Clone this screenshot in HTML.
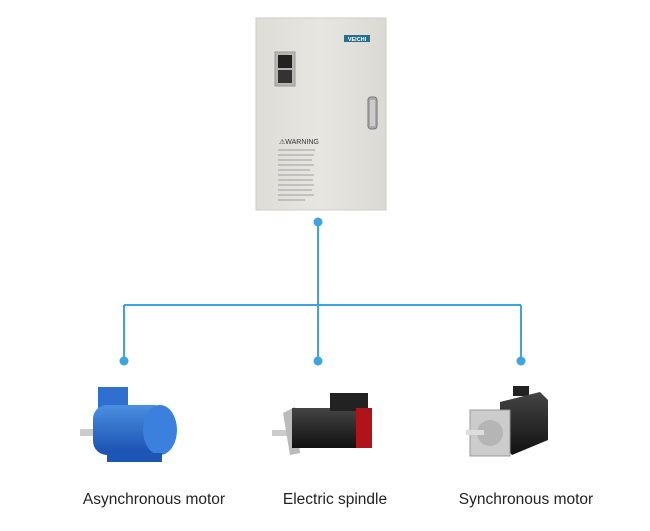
<!DOCTYPE html>
<html><head><meta charset="utf-8"><style>
html,body{margin:0;padding:0;background:#fff;}
svg{display:block}
text{font-family:"Liberation Sans",Arial,sans-serif;}
</style></head><body>
<svg width="650" height="531" viewBox="0 0 650 531">
<defs>
<linearGradient id="cab" x1="0" x2="1"><stop offset="0" stop-color="#dedcd7"/><stop offset="0.5" stop-color="#e8e6e1"/><stop offset="1" stop-color="#dbd9d4"/></linearGradient>
<linearGradient id="blue" x1="0" y1="0" x2="0" y2="1"><stop offset="0" stop-color="#4a8fe0"/><stop offset="1" stop-color="#1a4fb0"/></linearGradient>
<linearGradient id="blk" x1="0" y1="0" x2="0" y2="1"><stop offset="0" stop-color="#444"/><stop offset="1" stop-color="#111"/></linearGradient>
</defs>
<rect x="256" y="18" width="130" height="192" fill="url(#cab)" stroke="#cfcdc8"/>
<rect x="344" y="35" width="26" height="7" fill="#2a6f8a"/>
<text x="357" y="41" font-size="5.5" fill="#fff" text-anchor="middle" font-weight="bold">VEICHI</text>
<rect x="275" y="52" width="20" height="34" fill="#b8b6b0" stroke="#999"/>
<rect x="278" y="55" width="14" height="13" fill="#222"/>
<rect x="278" y="70" width="14" height="13" fill="#333"/>
<rect x="368" y="97" width="9" height="32" rx="3" fill="#aaa" stroke="#777"/>
<rect x="370" y="100" width="5" height="26" fill="#ccc"/>
<text x="279" y="144" font-size="7" fill="#333">⚠WARNING</text>
<g stroke="#888" stroke-width="0.8">
<line x1="278" y1="150" x2="315" y2="150"/><line x1="278" y1="155" x2="314" y2="155"/><line x1="278" y1="160" x2="312" y2="160"/><line x1="278" y1="165" x2="314" y2="165"/><line x1="278" y1="170" x2="310" y2="170"/><line x1="278" y1="175" x2="314" y2="175"/><line x1="278" y1="180" x2="313" y2="180"/><line x1="278" y1="185" x2="314" y2="185"/><line x1="278" y1="190" x2="312" y2="190"/><line x1="278" y1="195" x2="314" y2="195"/><line x1="278" y1="200" x2="305" y2="200"/>
</g>
<g stroke="#3ea4e0" stroke-width="2" fill="none">
<line x1="318" y1="222" x2="318" y2="305"/>
<line x1="124" y1="305" x2="521" y2="305"/>
<line x1="124" y1="305" x2="124" y2="361"/>
<line x1="318" y1="305" x2="318" y2="361"/>
<line x1="521" y1="305" x2="521" y2="361"/>
</g>
<g fill="#3ea4e0">
<circle cx="318" cy="222" r="4.5"/><circle cx="124" cy="361" r="4.5"/><circle cx="318" cy="361" r="4.5"/><circle cx="521" cy="361" r="4.5"/>
</g>
<!-- blue motor -->
<rect x="80" y="429" width="16" height="7" fill="#ccc"/>
<rect x="98" y="387" width="30" height="22" fill="#2e6fd0"/>
<rect x="93" y="405" width="75" height="50" rx="14" fill="url(#blue)"/>
<ellipse cx="160" cy="430" rx="17" ry="25" fill="#3a80dc"/>
<rect x="107" y="453" width="55" height="9" fill="#1e56b8"/>
<!-- spindle -->
<rect x="272" y="430" width="20" height="6" fill="#ccc"/>
<path d="M283 413 L295 407 L300 453 L290 455 Z" fill="#bbb"/>
<rect x="292" y="408" width="65" height="40" fill="url(#blk)"/>
<rect x="330" y="393" width="38" height="18" fill="#222"/>
<rect x="356" y="408" width="16" height="40" fill="#b0141a"/>
<!-- synchronous -->
<rect x="513" y="386" width="16" height="10" fill="#222"/>
<path d="M500 402 L540 392 L548 400 L548 440 L512 455 L500 440 Z" fill="url(#blk)"/>
<rect x="470" y="410" width="40" height="46" fill="#ccc" stroke="#999"/>
<circle cx="490" cy="433" r="13" fill="#b5b5b5"/>
<rect x="466" y="430" width="18" height="5" fill="#ddd"/>
<g font-size="15.5" fill="#222" text-anchor="middle">
<text x="154" y="504">Asynchronous motor</text>
<text x="335" y="504">Electric spindle</text>
<text x="526" y="504">Synchronous motor</text>
</g>
</svg>
</body></html>
